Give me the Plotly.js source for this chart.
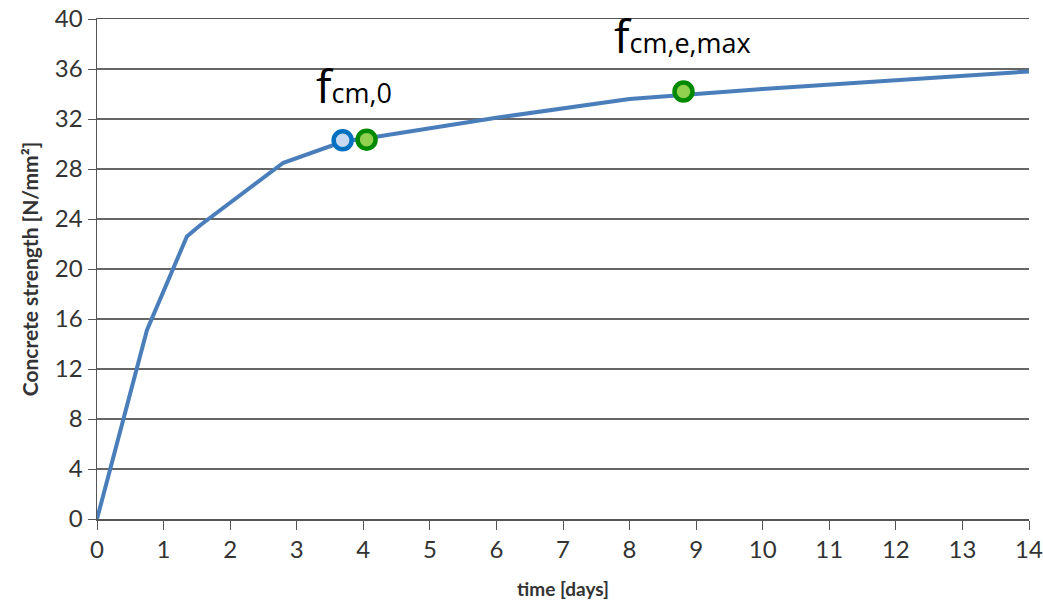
<!DOCTYPE html>
<html><head><meta charset="utf-8">
<script src="https://cdn.plot.ly/plotly-3.0.1.min.js"></script>
<style>body{margin:0;background:#fff}#c{width:1043px;height:603px}</style>
</head><body><div id="c"></div>
<script>
const days = [0, 0.75, 1.35, 1.55, 2.8, 3.7, 4.1, 6, 8, 10, 12, 14];
const strength = [0, 15.1, 22.6, 23.5, 28.5, 30.2, 30.5, 32.1, 33.6, 34.4, 35.1, 35.8];
const blueX = [3.69], blueY = [30.3];
const greenX = [4.05, 8.81], greenY = [30.35, 34.2];
const labelText = ["cm,0", "cm,e,max"];
const labelX = [3.86, 8.8], labelY = [32.05, 36.1];
const xTicks = [0,1,2,3,4,5,6,7,8,9,10,11,12,13,14];
const yTicks = [0,4,8,12,16,20,24,28,32,36,40];

const traces = [
  {x: days, y: strength, mode: 'lines', line: {color: '#4a7ebb', width: 4}, hoverinfo: 'skip'},
  {x: blueX, y: blueY, mode: 'markers', marker: {size: 18, color: '#c6d9f1', line: {color: '#0070c0', width: 4.5}}},
  {x: greenX, y: greenY, mode: 'markers', marker: {size: 18, color: '#92d050', line: {color: '#008a00', width: 4.5}}}
];
const annotations = labelText.map((t, i) => ({
  x: labelX[i], y: labelY[i], xref: 'x', yref: 'y', showarrow: false, xanchor: 'center', yanchor: 'bottom',
  text: "<span style='font-size:46px'>f</span>" + t,
  font: {family: 'Open Sans, sans-serif', size: 27, color: '#000'}
}));
const layout = {
  width: 1043, height: 603, showlegend: false,
  margin: {l: 97, r: 14, t: 19, b: 84},
  paper_bgcolor: '#fff', plot_bgcolor: '#fff',
  font: {family: 'Lato, sans-serif', color: '#333'},
  xaxis: {range: [0, 14], tickvals: xTicks, ticktext: xTicks.map(String), ticks: 'outside', ticklen: 9, tickcolor: '#555',
    showgrid: false, zeroline: false, showline: true, linecolor: '#555', linewidth: 1.5, mirror: true,
    tickfont: {size: 24, color: '#333'},
    title: {text: '<b>time [days]</b>', font: {size: 19, color: '#333'}, standoff: 20}},
  yaxis: {range: [0, 40], tickvals: yTicks, ticktext: yTicks.map(String), ticks: 'outside', ticklen: 8, tickcolor: '#555',
    showgrid: true, gridcolor: '#666', gridwidth: 1.5, zeroline: false, showline: true, linecolor: '#555', linewidth: 1.5,
    tickfont: {size: 24, color: '#333'},
    title: {text: '<b>Concrete strength [N/mm²]</b>', font: {size: 21, color: '#333'}, standoff: 10}},
  annotations: annotations
};
Plotly.newPlot('c', traces, layout, {displayModeBar: false, staticPlot: true});
</script></body></html>
